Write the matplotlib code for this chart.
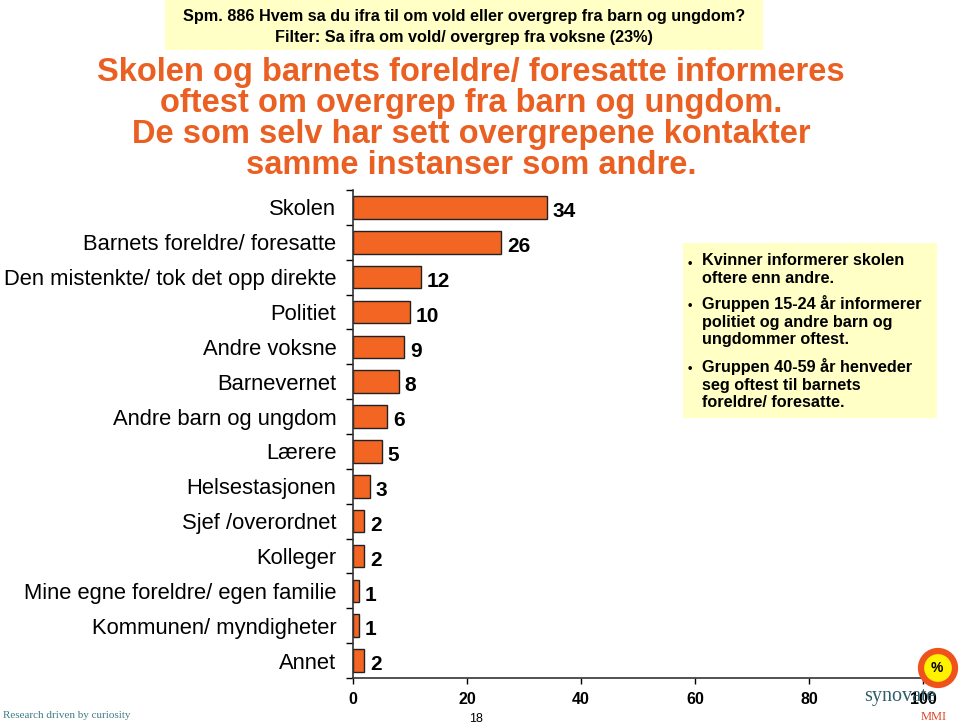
import matplotlib
matplotlib.use("Agg")
import matplotlib.pyplot as plt
from matplotlib.patches import Rectangle, Ellipse

plt.rcParams['font.family'] = ['Liberation Sans', 'DejaVu Sans']

categories = ["Skolen", "Barnets foreldre/ foresatte", "Den mistenkte/ tok det opp direkte",
              "Politiet", "Andre voksne", "Barnevernet", "Andre barn og ungdom", "Lærere",
              "Helsestasjonen", "Sjef /overordnet", "Kolleger", "Mine egne foreldre/ egen familie",
              "Kommunen/ myndigheter", "Annet"]
values = [34, 26, 12, 10, 9, 8, 6, 5, 3, 2, 2, 1, 1, 2]
xticks = [0, 20, 40, 60, 80, 100]

header = "Spm. 886 Hvem sa du ifra til om vold eller overgrep fra barn og ungdom?\nFilter: Sa ifra om vold/ overgrep fra voksne (23%)"
title = ("Skolen og barnets foreldre/ foresatte informeres\noftest om overgrep fra barn og ungdom.\n"
         "De som selv har sett overgrepene kontakter\nsamme instanser som andre.")
bullets = ["Kvinner informerer skolen\noftere enn andre.",
           "Gruppen 15-24 år informerer\npolitiet og andre barn og\nungdommer oftest.",
           "Gruppen 40-59 år henveder\nseg oftest til barnets\nforeldre/ foresatte."]

W, H = 960, 728
fig = plt.figure(figsize=(9.6, 7.28), dpi=100)

def fx(px):
    return px / W

def fy(py):
    return 1 - py / H

ax = fig.add_axes([fx(353), fy(678), fx(923) - fx(353), fy(190) - fy(678)])
n = len(categories)
ypos = list(range(n))
ax.barh(ypos, values, height=0.65, color="#F26522", edgecolor="#222222", linewidth=1.0)
ax.set_ylim(n - 0.5, -0.5)
ax.set_xlim(0, 100)
ax.set_yticks([i - 0.5 for i in range(n + 1)])
ax.set_yticklabels([])
ax.set_yticks(ypos, minor=True)
ax.set_yticklabels(categories, minor=True, fontsize=15.8)
ax.tick_params(axis='y', which='minor', length=0, pad=12)
ax.tick_params(axis='y', which='major', length=5, width=1, direction='out')
ax.set_xticks(xticks)
ax.set_xticklabels([str(t) for t in xticks], fontsize=11.5, fontweight='bold')
ax.tick_params(axis='x', length=4, width=1, direction='out', pad=6)
for s in ['top', 'right']:
    ax.spines[s].set_visible(False)
for s in ['left', 'bottom']:
    ax.spines[s].set_linewidth(1.2)
    ax.spines[s].set_color("#333333")

for y, v in zip(ypos, values):
    ax.annotate(str(v), xy=(v, y), xytext=(4, -3), textcoords='offset points',
                ha='left', va='center', fontsize=15, fontweight='bold')

# header box
fig.patches.append(Rectangle((fx(165), fy(50)), fx(763) - fx(165), fy(0) - fy(50),
                             transform=fig.transFigure, facecolor="#FFFFC6", edgecolor='none', zorder=0))
fig.text(fx(464), fy(27), header, ha='center', va='center', fontsize=11.7, fontweight='bold',
         linespacing=1.55)

# title
fig.text(fx(471), fy(119), title, ha='center', va='center', fontsize=23.5, fontweight='bold',
         color="#EA5F22", linespacing=1.0)

# right box
fig.patches.append(Rectangle((fx(683), fy(418)), fx(937) - fx(683), fy(243) - fy(418),
                             transform=fig.transFigure, facecolor="#FFFFC6", edgecolor='none', zorder=0))
ys = [261, 303, 366]
for yy, b in zip(ys, bullets):
    fig.text(fx(688), fy(yy + 3), "•", ha='left', va='center', fontsize=9, fontweight='bold')
    fig.text(fx(702), fy(yy - 8), b, ha='left', va='top', fontsize=11.7, fontweight='bold',
             linespacing=1.22)

# footer
fig.text(fx(3), fy(716), "Research driven by curiosity", ha='left', va='center', fontsize=8,
         family='Liberation Serif', color="#3E7F86")
fig.text(fx(476), fy(719), "18", ha='center', va='center', fontsize=9)
r = 17
fig.patches.append(Ellipse((fx(938), fy(668)), 2 * r / W, 2 * r / H, transform=fig.transFigure,
                           facecolor="#FFF200", edgecolor="#F0521E", linewidth=4.5, zorder=3))
fig.text(fx(937), fy(668), "%", ha='center', va='center', fontsize=10, fontweight='bold', zorder=4)
fig.text(fx(900), fy(697), "synovate", ha='center', va='center', fontsize=14.5,
         family='Liberation Serif', color="#2F5F6A")
fig.text(fx(934), fy(717), "MMI", ha='center', va='center', fontsize=9,
         family='Liberation Serif', color="#E0462A")

fig.savefig("out.png", dpi=100)
